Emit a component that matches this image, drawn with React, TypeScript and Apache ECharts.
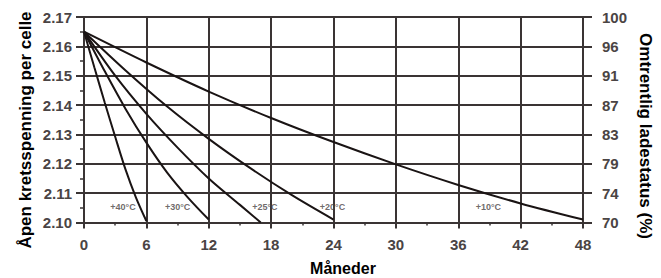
import React, { useEffect, useRef } from "react";
import * as echarts from "echarts";

// Months and open-circuit voltage per cell for each temperature curve
const months40 = [0, 1, 2, 3, 4, 5, 6];
const volts40 = [2.165, 2.1528, 2.1408, 2.1292, 2.118, 2.1085, 2.1005];

const months30 = [0, 2, 4, 6, 8, 10, 12];
const volts30 = [2.165, 2.1515, 2.1387, 2.1272, 2.117, 2.1085, 2.101];

const months25 = [0, 3, 6, 9, 12, 15, 17];
const volts25 = [2.165, 2.150, 2.137, 2.1255, 2.115, 2.106, 2.100];

const months20 = [0, 4, 8, 12, 16, 20, 24];
const volts20 = [2.165, 2.1518, 2.1395, 2.1285, 2.1185, 2.1093, 2.101];

const months10 = [0, 6, 12, 18, 24, 30, 36, 42, 48];
const volts10 = [2.165, 2.1545, 2.1446, 2.1356, 2.1274, 2.1198, 2.1128, 2.1065, 2.101];

// Curve labels
const curveLabels = ["+40°C", "+30°C", "+25°C", "+20°C", "+10°C"];
const labelMonths = [3.75, 9.0, 17.4, 23.9, 38.9];
const labelVolts = [2.1052, 2.1052, 2.1052, 2.1052, 2.1052];

// Right axis: approximate state of charge (%)
const socLabels = ["70", "74", "79", "83", "87", "91", "96", "100"];

const pairs = (xs: number[], ys: number[]) => xs.map((x, i) => [x, ys[i]]);

const TICK_FONT = "'Liberation Sans', Arial, sans-serif";

export default function App() {
  const ref = useRef<HTMLDivElement>(null);
  useEffect(() => {
    if (!ref.current) return;
    const chart = echarts.init(ref.current, undefined, { renderer: "svg" });
    const lineColor = "#1a1414";
    const gridColor = "#3a3434";
    const curve = (name: string, xs: number[], ys: number[]) => ({
      name,
      type: "line",
      data: pairs(xs, ys),
      smooth: 0.3,
      showSymbol: false,
      symbol: "none",
      lineStyle: { color: lineColor, width: 2 },
      xAxisIndex: 0,
      yAxisIndex: 0,
      z: 5,
    });
    chart.setOption({
      animation: false,
      grid: { left: 84, right: 78, top: 17, bottom: 55.5, containLabel: false },
      xAxis: {
        type: "value",
        min: 0,
        max: 48,
        interval: 6,
        axisLine: { show: true, lineStyle: { color: gridColor, width: 2 } },
        axisTick: { show: true, length: 6, lineStyle: { color: gridColor, width: 2 } },
        minorTick: { show: true, splitNumber: 2, length: 3, lineStyle: { color: gridColor, width: 1.5 } },
        splitLine: { show: true, lineStyle: { color: gridColor, width: 2 } },
        axisLabel: {
          margin: 14,
          fontFamily: TICK_FONT,
          fontWeight: "bold",
          fontSize: 15,
          color: "#4a4444",
        },
      },
      yAxis: [
        {
          type: "value",
          position: "left",
          min: 2.1,
          max: 2.17,
          interval: 0.01,
          axisLine: { show: true, lineStyle: { color: gridColor, width: 2 } },
          axisTick: { show: true, length: 8, lineStyle: { color: gridColor, width: 2 } },
          minorTick: { show: true, splitNumber: 2, length: 4, lineStyle: { color: gridColor, width: 1.5 } },
          splitLine: { show: true, lineStyle: { color: gridColor, width: 2 } },
          axisLabel: {
            margin: 12,
            formatter: (v: number) => v.toFixed(2),
            fontFamily: TICK_FONT,
            fontWeight: "bold",
            fontSize: 15,
            color: "#4a4444",
          },
        },
        {
          type: "value",
          position: "right",
          min: 0,
          max: 7,
          interval: 1,
          axisLine: { show: true, lineStyle: { color: gridColor, width: 2 } },
          axisTick: { show: true, length: 9, lineStyle: { color: gridColor, width: 2 } },
          splitLine: { show: false },
          axisLabel: {
            margin: 19,
            formatter: (v: number) => socLabels[Math.round(v)] ?? "",
            fontFamily: TICK_FONT,
            fontWeight: "bold",
            fontSize: 15,
            color: "#4a4444",
          },
        },
      ],
      series: [
        curve("+40°C", months40, volts40),
        curve("+30°C", months30, volts30),
        curve("+25°C", months25, volts25),
        curve("+20°C", months20, volts20),
        curve("+10°C", months10, volts10),
        {
          name: "labels",
          type: "scatter",
          symbolSize: 0,
          xAxisIndex: 0,
          yAxisIndex: 0,
          data: curveLabels.map((t, i) => ({ value: [labelMonths[i], labelVolts[i]], name: t })),
          label: {
            show: true,
            position: "inside",
            formatter: (p: any) => p.name,
            fontFamily: TICK_FONT,
            fontWeight: "bold",
            fontSize: 9,
            color: "#4a4444",
          },
          z: 6,
        },
      ],
      graphic: [
        {
          type: "text",
          x: 25,
          y: 130,
          rotation: Math.PI / 2,
          style: {
            text: "Åpen kretsspenning per celle",
            fontFamily: TICK_FONT,
            fontWeight: "bold",
            fontSize: 17,
            fill: "#000",
            textAlign: "center",
            textVerticalAlign: "middle",
          },
        },
        {
          type: "text",
          x: 645,
          y: 136,
          rotation: -Math.PI / 2,
          style: {
            text: "Omtrentlig ladestatus (%)",
            fontFamily: TICK_FONT,
            fontWeight: "bold",
            fontSize: 17,
            fill: "#000",
            textAlign: "center",
            textVerticalAlign: "middle",
          },
        },
        {
          type: "text",
          x: 343,
          y: 268,
          style: {
            text: "Måneder",
            fontFamily: TICK_FONT,
            fontWeight: "bold",
            fontSize: 16,
            fill: "#000",
            textAlign: "center",
            textVerticalAlign: "middle",
          },
        },
      ],
    });
    return () => chart.dispose();
  }, []);
  return <div ref={ref} style={{ width: 661, height: 278, position: "absolute", left: 0, top: 0 }} />;
}
